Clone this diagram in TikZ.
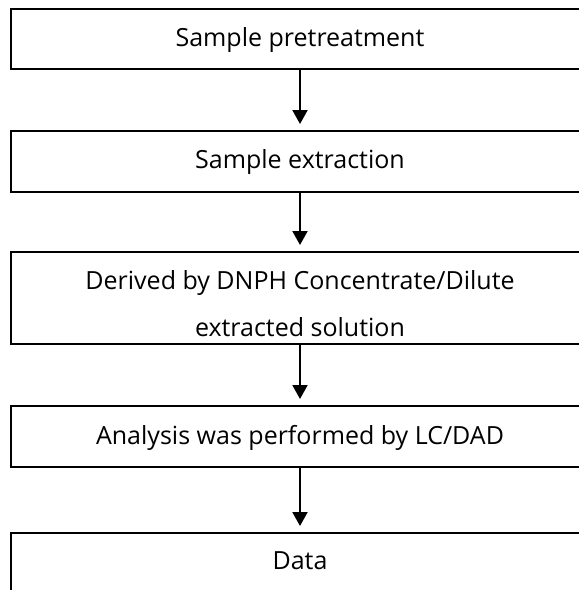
\documentclass[tikz,border=0pt]{standalone}
\usepackage{fontspec}
\setmainfont{Open Sans}
\usetikzlibrary{arrows.meta}
\begin{document}
\begin{tikzpicture}[x=1pt,y=-1pt,
  flowbox/.style={draw=black,line width=2pt,rectangle,minimum width=578pt,inner sep=0pt},
  flowtext/.style={inner sep=0pt,align=center,font=\fontsize{25}{47}\selectfont},
  flowarrow/.style={line width=2pt,-{Triangle[width=15pt,length=14pt]}}]
\useasboundingbox (0,0) rectangle (579,590);
\node[flowbox,minimum height=60pt] (b1) at (300,39) {};
\node[flowtext] (t1) at (300,40) {Sample pretreatment};
\node[flowbox,minimum height=61pt] (b2) at (300,161.5) {};
\node[flowtext] (t2) at (300,162.5) {Sample extraction};
\node[flowbox,minimum height=92pt] (b3) at (300,298) {};
\node[flowtext] (t3) at (300,304) {Derived by DNPH Concentrate/Dilute\\extracted solution};
\node[flowbox,minimum height=61pt] (b4) at (300,436.5) {};
\node[flowtext] (t4) at (300,437.5) {Analysis was performed by LC/DAD};
\node[flowbox,minimum height=70pt] (b5) at (300,568) {};
\node[flowtext] (t5) at (300,561) {Data};
\draw[flowarrow] (b1.south) -- ([yshift=6pt]b2.north);
\draw[flowarrow] (b2.south) -- ([yshift=6pt]b3.north);
\draw[flowarrow] (b3.south) -- ([yshift=6pt]b4.north);
\draw[flowarrow] (b4.south) -- ([yshift=6pt]b5.north);
\end{tikzpicture}
\end{document}
